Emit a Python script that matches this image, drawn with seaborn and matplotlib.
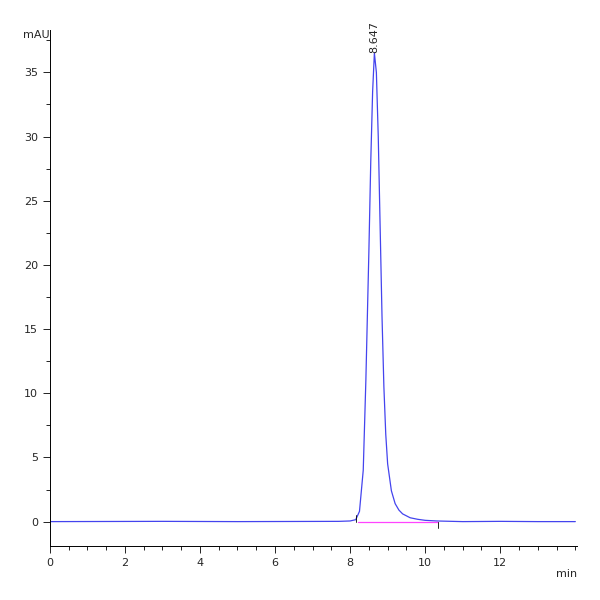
import matplotlib
matplotlib.use("Agg")
import matplotlib.pyplot as plt
import seaborn as sns
import pandas as pd
from matplotlib.ticker import MultipleLocator, FixedLocator

time_min = [0, 3, 5, 7.7, 8.0, 8.15, 8.25, 8.35, 8.42, 8.5, 8.55, 8.6, 8.647, 8.7, 8.75, 8.8, 8.85,
            8.9, 8.95, 9.0, 9.1, 9.2, 9.3, 9.4, 9.6, 9.8, 10.0, 10.3, 11, 12, 13, 14]
signal_mau = [0, 0.02, 0, 0.02, 0.05, 0.15, 0.8, 4, 11, 21, 28, 33.5, 36.5, 35, 30, 23, 16,
              10.5, 6.8, 4.5, 2.4, 1.4, 0.9, 0.6, 0.3, 0.18, 0.1, 0.05, 0, 0.02, 0, 0]
baseline_x = [8.2, 10.35]
baseline_y = [0, 0]
peak_rt = 8.647
peak_h = 36.5

sns.set_theme(style="white")
df = pd.DataFrame({"t": time_min, "s": signal_mau})
fig, ax = plt.subplots(figsize=(6, 6), dpi=100)
fig.subplots_adjust(left=0.083, right=0.962, top=0.95, bottom=0.09)
sns.lineplot(data=df, x="t", y="s", ax=ax, color="#4444ee", lw=0.9)
ax.plot(baseline_x, baseline_y, color="#ff44ff", lw=0.9)
ax.plot([8.15, 8.15], [0, 0.5], color="black", lw=0.6)
ax.plot([10.35, 10.35], [0, -0.5], color="black", lw=0.6)
ax.text(peak_rt, peak_h, f"{peak_rt:.3f}", rotation=90, ha="center", va="bottom", fontsize=8)
ax.set_xlim(0, 14.05)
ax.set_ylim(-1.9, 38.3)
ax.xaxis.set_major_locator(FixedLocator([0, 2, 4, 6, 8, 10, 12]))
ax.xaxis.set_minor_locator(MultipleLocator(0.5))
ax.yaxis.set_major_locator(MultipleLocator(5))
ax.yaxis.set_minor_locator(MultipleLocator(2.5))
ax.tick_params(which="both", direction="out", bottom=True, left=True, labelsize=8, width=0.6, color="black")
ax.tick_params(which="major", length=5)
ax.tick_params(which="minor", length=3)
ax.set_xticklabels([0, 2, 4, 6, 8, 10, 12])
for s in ["top", "right"]:
    ax.spines[s].set_visible(False)
for s in ["left", "bottom"]:
    ax.spines[s].set_color("black")
    ax.spines[s].set_linewidth(0.7)
ax.set_xlabel("")
ax.set_ylabel("")
ax.text(0, 1.0, "mAU", transform=ax.transAxes, ha="right", va="top", fontsize=8)
ax.text(1.0, -0.045, "min", transform=ax.transAxes, ha="right", va="top", fontsize=8)
fig.savefig("out.png", dpi=100)
